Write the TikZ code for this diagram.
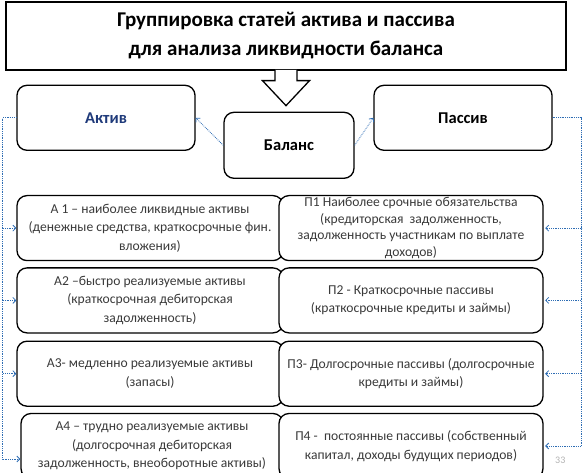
\documentclass[tikz,border=0pt]{standalone}
\usepackage{fontspec}
\setmainfont{Carlito}
\usetikzlibrary{arrows.meta,positioning,calc}
\definecolor{Link}{HTML}{2E6DB4}
\definecolor{Navy}{HTML}{1F3A7A}
\definecolor{Ink}{HTML}{3A3A3A}
\tikzset{
  head/.style={draw=black, line width=1.3pt, fill=white, align=center, minimum width=560pt, minimum height=68pt, font=\fontsize{21}{29}\selectfont\bfseries},
  cat/.style={draw=black, line width=1.3pt, rounded corners=10pt, fill=white, align=center, minimum height=65pt, font=\fontsize{16.5}{18}\selectfont\bfseries},
  item/.style={cat, minimum width=266pt, minimum height=65pt, inner sep=1pt, text=Ink, font=\fontsize{13.6}{18.5}\selectfont},
  link/.style={-{Straight Barb[length=3pt,width=6pt]}, densely dotted, line width=0.8pt, draw=Link},
  pagenum/.style={text=black!30, font=\fontsize{10}{10}\selectfont}
}

\begin{document}
\begin{tikzpicture}
\useasboundingbox (0,0) rectangle (584pt,-473pt);
\node[head] (title) at (286pt,-36pt) {Группировка статей актива и пассива\\для анализа ликвидности баланса};
\draw[line width=1.3pt, fill=white] ([xshift=-11pt,yshift=0.7pt]title.south) -- ++(0,-10.7pt) -- ++(-12.5pt,0) -- ([yshift=-35pt]title.south) -- ++(23.5pt,25pt) -- ++(-12.5pt,0) -- ++(0,10.7pt);
\node[cat, minimum width=178pt, text=Navy, below right=14pt and 11pt of title.south west] (aktiv) {Актив};
\node[cat, minimum width=178pt, below left=14pt and 14pt of title.south east] (pas) {Пассив};
\node[cat, minimum width=130pt, minimum height=66pt, below=41pt of title.south, xshift=3pt] (bal) {Баланс};
\draw[link] (bal.west) -- (aktiv.east);
\draw[link] (bal.east) -- (pas.west);
% активы
\node[item, below right=44pt and 0pt of aktiv.south west] (a1) {А 1 – наиболее ликвидные активы\\(денежные средства, краткосрочные фин.\\вложения)};
\node[item, below=6pt of a1] (a2) {А2 –быстро реализуемые активы\\(краткосрочная дебиторская\\задолженность)};
\node[item, below=7pt of a2] (a3) {А3- медленно реализуемые активы\\(запасы)};
\node[item, minimum width=262pt, below=6pt of a3, xshift=2pt] (a4) {А4 – трудно реализуемые активы\\(долгосрочная дебиторская\\задолженность, внеоборотные активы)};
% пассивы
\node[item, minimum width=264pt, inner sep=0pt, font=\fontsize{13.6}{16.5}\selectfont, below left=44pt and 9pt of pas.south east] (p1) {П1 Наиболее срочные обязательства\\(кредиторская \ задолженность,\\задолженность участникам по выплате\\доходов)};
\node[item, minimum width=264pt, below=6pt of p1] (p2) {П2 - Краткосрочные пассивы\\(краткосрочные кредиты и займы)};
\node[item, minimum width=264pt, below=7pt of p2] (p3) {П3- Долгосрочные пассивы (долгосрочные\\кредиты и займы)};
\node[item, minimum width=264pt, below=6pt of p3] (p4) {П4 - \ постоянные пассивы (собственный\\капитал, доходы будущих периодов)};
\node[pagenum, anchor=west] (pnum) at ([xshift=8pt,yshift=-14pt]p4.east) {33};
% шины
\coordinate[left=13.5pt of aktiv.west] (lbus);
\coordinate[right=29pt of pas.east] (rbus);
\foreach \n in {a1,a2,a3} \draw[link] (aktiv.west) -- (lbus) |- (\n.west);
\draw[link] (aktiv.west) -- (lbus) |- ([yshift=-13pt]a4.west);
\foreach \n in {p1,p2,p3,p4} \draw[link, shorten >=1.5pt] (pas.east) -- (rbus) |- (\n.east);
\end{tikzpicture}
\end{document}
